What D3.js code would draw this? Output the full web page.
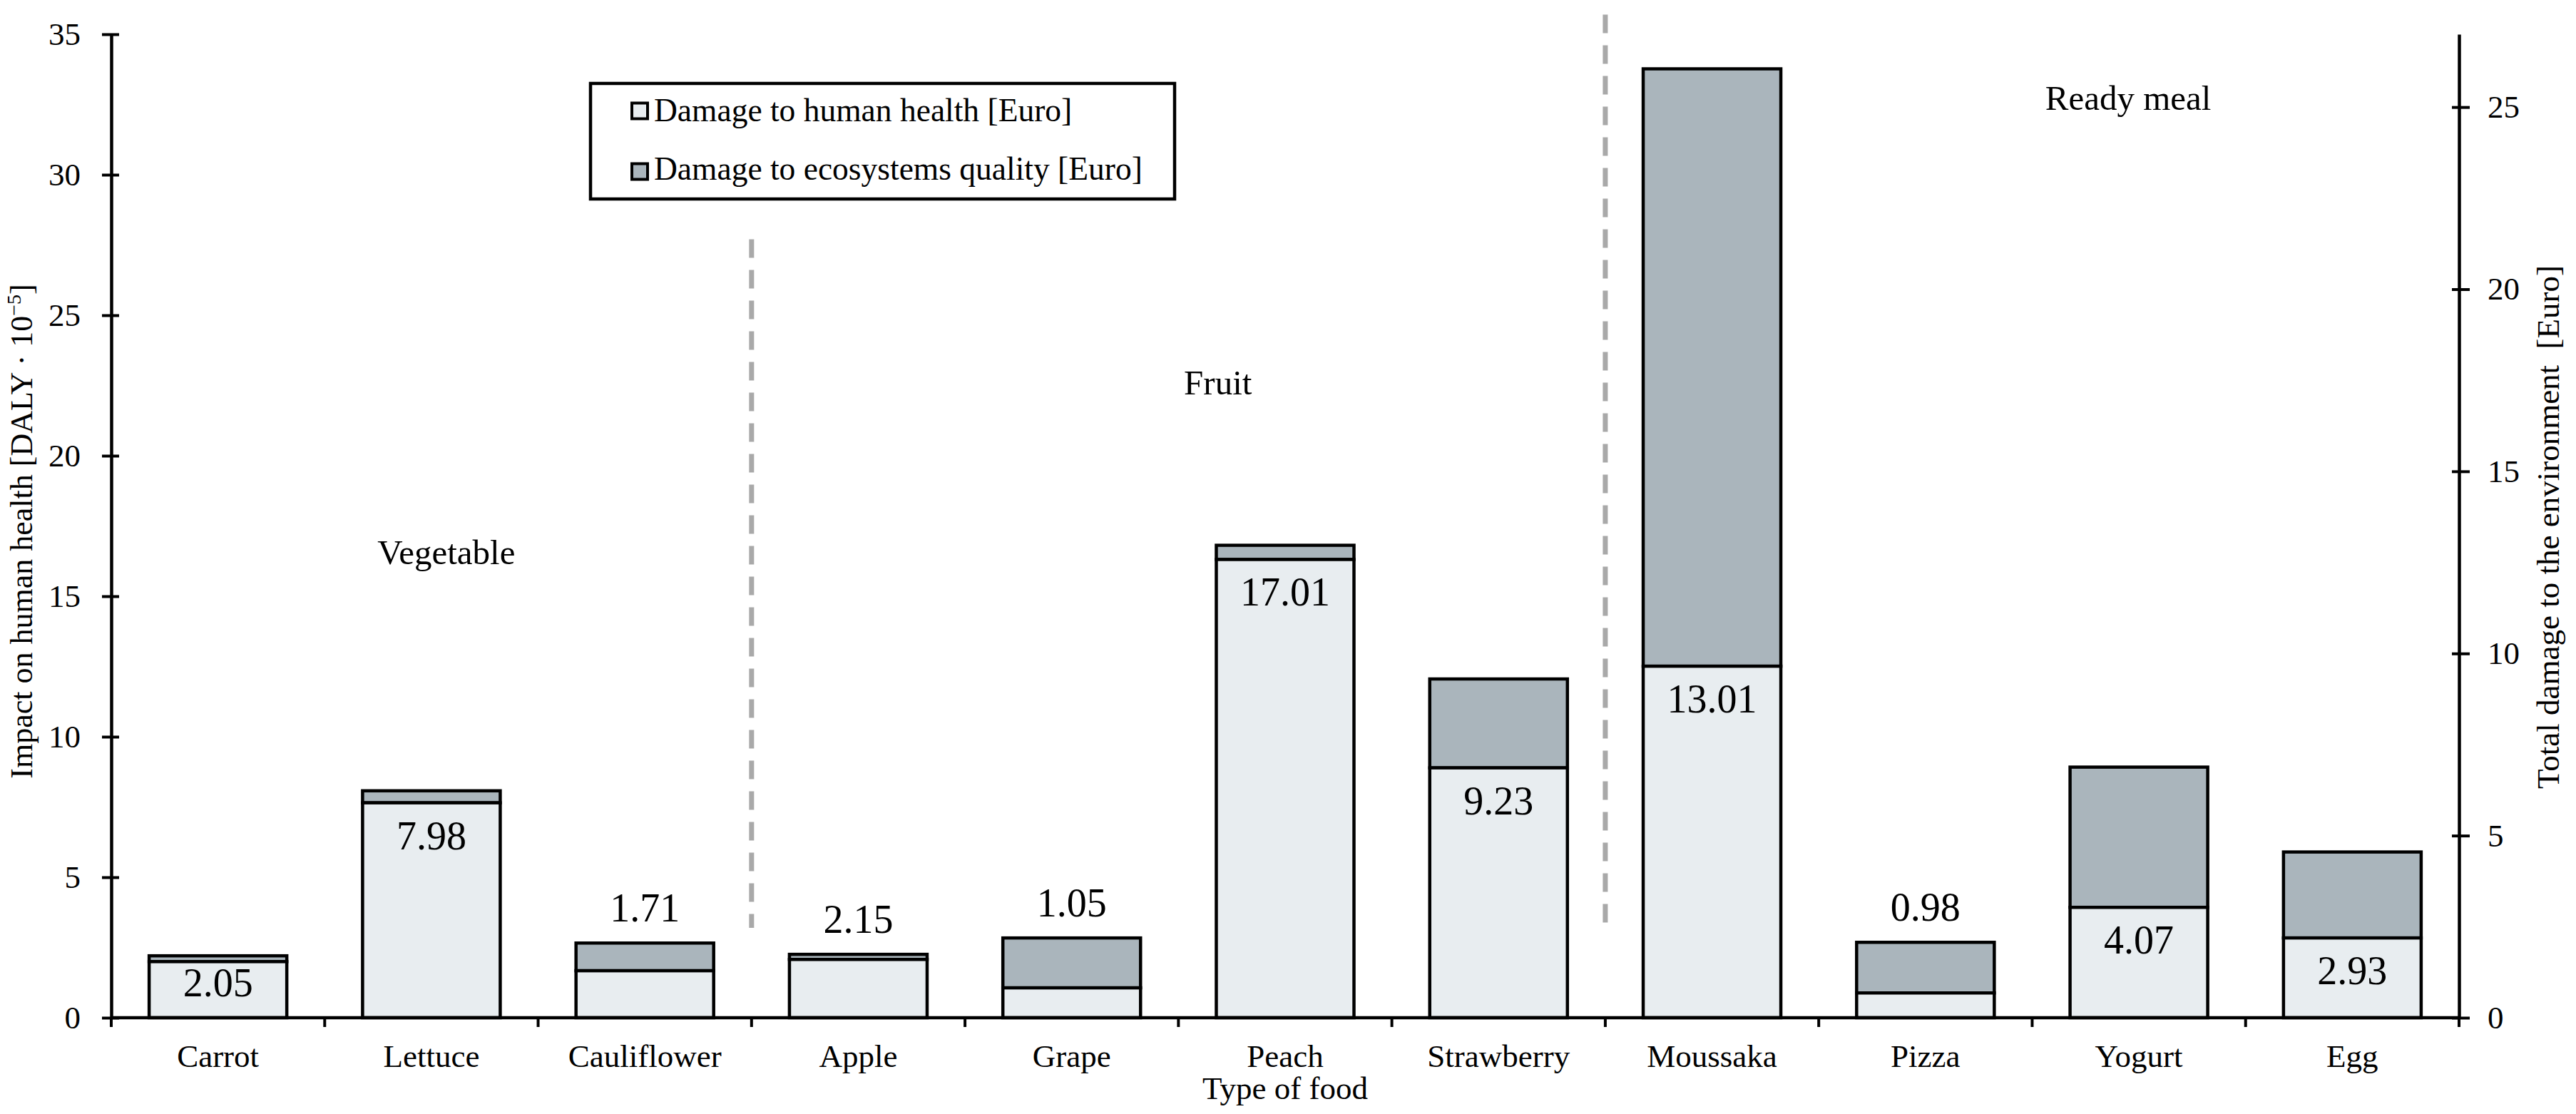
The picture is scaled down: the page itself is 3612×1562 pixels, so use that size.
<!DOCTYPE html>
<html>
<head>
<meta charset="utf-8">
<script src="https://cdn.jsdelivr.net/npm/d3@7/dist/d3.min.js"></script>
<style>
  html, body { margin: 0; padding: 0; background: #fff; }
  svg { display: block; }
  text { font-family: "Liberation Serif", "Times New Roman", serif; fill: #000; }
</style>
</head>
<body>
<svg id="chart" width="3612" height="1562"></svg>
<script>
// ---------------- DATA ----------------
const categories = ["Carrot", "Lettuce", "Cauliflower", "Apple", "Grape", "Peach", "Strawberry", "Moussaka", "Pizza", "Yogurt", "Egg"];
// Damage to human health [Euro] (right axis)
const humanHealth = [1.54, 5.90, 1.29, 1.60, 0.82, 12.58, 6.86, 9.65, 0.68, 3.03, 2.19];
// Damage to ecosystems quality [Euro] (right axis)
const ecosystems = [0.16, 0.33, 0.76, 0.14, 1.37, 0.39, 2.44, 16.40, 1.39, 3.85, 2.36];
// Impact on human health [DALY · 10^-5] printed on bars
const valueLabels = ["2.05", "7.98", "1.71", "2.15", "1.05", "17.01", "9.23", "13.01", "0.98", "4.07", "2.93"];
const labelPlacement = ["inside", "inside", "above", "above", "above", "inside", "inside", "inside", "above", "inside", "inside"];
const leftTicks = [0, 5, 10, 15, 20, 25, 30, 35];
const rightTicks = [0, 5, 10, 15, 20, 25];
const groupNames = ["Vegetable", "Fruit", "Ready meal"];
const groupStarts = [0, 3, 7];           // first category index of each group
const groupLabelPos = [1.57, 5.185, 9.45]; // in band units from left
const groupLabelLevel = [16.15, 22.18, 32.3]; // on left axis
const dividerTop = [27.7, 35.7];   // left axis units
const dividerBottom = [3.2, 3.0];
const seriesNames = ["Damage to human health [Euro]", "Damage to ecosystems quality [Euro]"];
const colors = ["#e8edf0", "#aab5bc"];

// ---------------- LAYOUT ----------------
const svg = d3.select("#chart");
const L = 156, R = 3448, T = 48, B = 1427;

const x = d3.scaleBand().domain(categories).range([L, R]).padding(0);
const yR = d3.scaleLinear().domain([0, 27]).range([B, T]);
const yL = d3.scaleLinear().domain([0, 35]).range([B, T]);
const barW = x.bandwidth() * 0.645;
const bx = c => x(c) + (x.bandwidth() - barW) / 2;

svg.append("rect").attr("width", 3612).attr("height", 1562).attr("fill", "#fff");

// Dashed dividers
groupStarts.slice(1).forEach((s, i) => {
  const xx = L + s * x.step();
  svg.append("line")
    .attr("x1", xx).attr("x2", xx)
    .attr("y1", yL(dividerTop[i])).attr("y2", yL(dividerBottom[i]))
    .attr("stroke", "#a9a9a9").attr("stroke-width", 7)
    .attr("stroke-dasharray", "26 17");
});

// Bars
const bars = svg.append("g");
categories.forEach((c, i) => {
  const h = humanHealth[i], e = ecosystems[i];
  bars.append("rect")
    .attr("x", bx(c)).attr("width", barW)
    .attr("y", yR(h + e)).attr("height", yR(h) - yR(h + e))
    .attr("fill", colors[1]).attr("stroke", "#000").attr("stroke-width", 4.5);
  bars.append("rect")
    .attr("x", bx(c)).attr("width", barW)
    .attr("y", yR(h)).attr("height", yR(0) - yR(h))
    .attr("fill", colors[0]).attr("stroke", "#000").attr("stroke-width", 4.5);
  const ly = labelPlacement[i] === "inside"
    ? Math.min(yR(h) + 65, yR(0) - 30)
    : yR(h + e) - 30;
  bars.append("text")
    .attr("x", bx(c) + barW / 2).attr("y", ly)
    .attr("text-anchor", "middle")
    .attr("font-size", 56)
    .text(valueLabels[i]);
});

// Left axis
const gL = svg.append("g").attr("transform", `translate(${L},0)`);
gL.call(d3.axisLeft(yL).tickValues(d3.range(0, 36).filter(v => v % 5 !== 0)).tickSize(-11).tickSizeOuter(0).tickFormat(""));
gL.call(d3.axisLeft(yL).tickValues(leftTicks).tickSize(13).tickPadding(30).tickSizeOuter(0).tickFormat(d3.format("d")));
gL.selectAll(".tick").filter(function () { return d3.select(this).select("text").text() !== ""; })
  .select("line").attr("x1", 11).attr("x2", -13);
gL.selectAll("line").attr("stroke", "#000").attr("stroke-width", 4);
gL.selectAll(".domain").attr("stroke", "#000").attr("stroke-width", 4.5);
gL.selectAll("text").attr("font-size", 45).attr("font-family", "Liberation Serif, serif").attr("fill", "#000");

// Right axis
const gR = svg.append("g").attr("transform", `translate(${R},0)`);
gR.call(d3.axisRight(yR).tickValues(d3.range(0, 28).filter(v => v % 5 !== 0)).tickSize(-10).tickSizeOuter(0).tickFormat(""));
gR.call(d3.axisRight(yR).tickValues(rightTicks).tickSize(15).tickPadding(25).tickSizeOuter(0).tickFormat(d3.format("d")));
gR.selectAll(".tick").filter(function () { return d3.select(this).select("text").text() !== ""; })
  .select("line").attr("x1", -10).attr("x2", 15);
gR.selectAll("line").attr("stroke", "#000").attr("stroke-width", 4);
gR.selectAll(".domain").attr("stroke", "#000").attr("stroke-width", 4.5);
gR.selectAll("text").attr("font-size", 45).attr("font-family", "Liberation Serif, serif").attr("fill", "#000");

// X axis
const gX = svg.append("g");
gX.append("line").attr("x1", L).attr("x2", R).attr("y1", B).attr("y2", B)
  .attr("stroke", "#000").attr("stroke-width", 4.5);
d3.range(categories.length + 1).forEach(i => {
  const xx = L + i * x.step();
  gX.append("line").attr("x1", xx).attr("x2", xx).attr("y1", B).attr("y2", B + 13)
    .attr("stroke", "#000").attr("stroke-width", 4);
});
categories.forEach(c => {
  gX.append("text").attr("x", x(c) + x.bandwidth() / 2).attr("y", 1496)
    .attr("text-anchor", "middle").attr("font-size", 45).text(c);
});
svg.append("text").attr("x", (L + R) / 2).attr("y", 1541)
  .attr("text-anchor", "middle").attr("font-size", 45).text("Type of food");

// Group labels
groupNames.forEach((g, i) => {
  svg.append("text")
    .attr("x", L + groupLabelPos[i] * x.step())
    .attr("y", yL(groupLabelLevel[i]))
    .attr("text-anchor", "middle").attr("font-size", 49).text(g);
});

// Axis titles
const lt = svg.append("text")
  .attr("transform", "translate(45,745) rotate(-90)")
  .attr("text-anchor", "middle").attr("font-size", 44);
lt.append("tspan").text("Impact on human health [DALY · 10");
lt.append("tspan").attr("font-size", 28).attr("dy", -16).text("−5");
lt.append("tspan").attr("dy", 16).text("]");

svg.append("text")
  .attr("transform", "translate(3588,739) rotate(-90)")
  .attr("text-anchor", "middle").attr("font-size", 45)
  .attr("xml:space", "preserve").style("white-space", "pre")
  .text("Total damage to the environment  [Euro]");

// Legend
const lg = svg.append("g");
lg.append("rect").attr("x", 828).attr("y", 117).attr("width", 819).attr("height", 162)
  .attr("fill", "#fff").attr("stroke", "#000").attr("stroke-width", 4.5);
seriesNames.forEach((s, i) => {
  const cy = 155.5 + i * 85;
  lg.append("rect").attr("x", 886).attr("y", cy - 11).attr("width", 22).attr("height", 22)
    .attr("fill", colors[i]).attr("stroke", "#000").attr("stroke-width", 4);
  lg.append("text").attr("x", 917).attr("y", 170 + i * 82).attr("font-size", 45.5).text(s);
});
</script>
</body>
</html>
